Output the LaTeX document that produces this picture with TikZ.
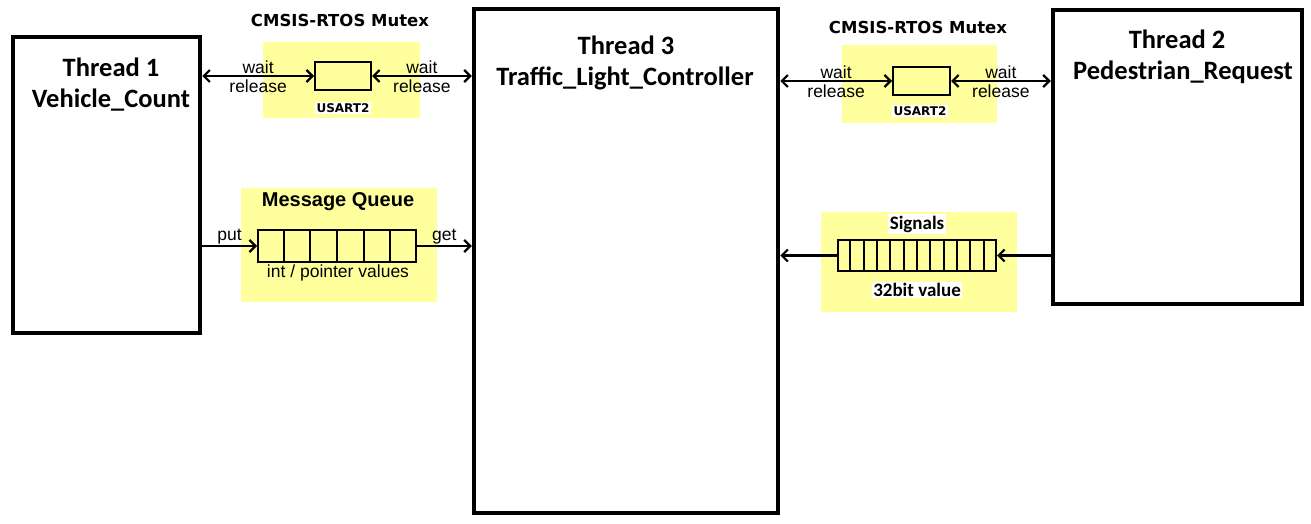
\documentclass[tikz,border=0pt]{standalone}
\usepackage{fontspec}
\setmainfont{Liberation Sans}
\newfontfamily\calib{Carlito}
\newfontfamily\verd{DejaVu Sans}
\usetikzlibrary{arrows.meta,calc}
\definecolor{qyellow}{RGB}{255,255,158}
\tikzset{
  >={Straight Barb[length=6pt,width=12pt]},
  thread/.style={draw, line width=4.5pt, inner sep=0pt},
  threadname/.style={font=\calib\bfseries\fontsize{26.5}{30}\selectfont, align=center, inner sep=0pt},
  area/.style={fill=qyellow, inner sep=0pt},
  box/.style={draw, line width=2pt, fill=qyellow, inner sep=0pt},
  arr/.style={line width=2.2pt, ->},
  darr/.style={line width=2.2pt, <->},
  lbl/.style={font=\fontsize{17.5}{19}\selectfont, inner sep=1pt},
  vtitle/.style={font=\verd\bfseries\fontsize{16.5}{18}\selectfont, inner sep=1pt},
  vsmall/.style={font=\verd\bfseries\fontsize{12}{14}\selectfont, fill=white, inner sep=1.5pt},
  ctitle/.style={font=\calib\bfseries\fontsize{19}{21}\selectfont, fill=white, inner sep=1.5pt}
}
\begin{document}
\begin{tikzpicture}[x=1pt,y=-1pt]
  \useasboundingbox (0,0) rectangle (1311,524);

  \node[thread, minimum width=187, minimum height=296] (thr1) at (106.5,185) {};
  \node[thread, minimum width=304, minimum height=504] (thr3) at (626,261) {};
  \node[thread, minimum width=249, minimum height=294] (thr2) at (1177.5,157) {};

  \node[threadname] at (111,67) {Thread 1};
  \node[threadname] at (111,100) {Vehicle\_Count};
  \node[threadname] at (626,45) {Thread 3};
  \node[threadname] at (625,78) {Traffic\_Light\_Controller};
  \node[threadname] at (1177,39) {Thread 2};
  \node[threadname] at (1183,72) {Pedestrian\_Request};

  % mutex left
  \node[area, minimum width=157, minimum height=76] (mtxbg1) at (341.5,80) {};
  \node[vtitle] (mtxt1) at (340,20) {CMSIS-RTOS Mutex};
  \node[box, minimum width=56, minimum height=28] (mtx1) at (343,76) {};
  \node[vsmall] (usart1) at (343,108) {USART2};
  \draw[darr] (thr1.east |- mtx1) -- (mtx1.west)
    node[midway, above, lbl] {wait} node[midway, below, lbl, inner sep=2.5pt] {release};
  \draw[darr] (mtx1.east) -- (thr3.west |- mtx1)
    node[midway, above, lbl] {wait} node[midway, below, lbl, inner sep=2.5pt] {release};

  % mutex right
  \node[area, minimum width=155, minimum height=78] (mtxbg2) at (919.5,84) {};
  \node[vtitle] (mtxt2) at (918,27) {CMSIS-RTOS Mutex};
  \node[box, minimum width=57, minimum height=28] (mtx2) at (921.5,81) {};
  \node[vsmall] (usart2) at (920,111) {USART2};
  \draw[darr] (thr3.east |- mtx2) -- (mtx2.west)
    node[midway, above, lbl] {wait} node[midway, below, lbl, inner sep=2.5pt] {release};
  \draw[darr] (mtx2.east) -- (thr2.west |- mtx2)
    node[midway, above, lbl] {wait} node[midway, below, lbl, inner sep=2.5pt] {release};

  % message queue
  \node[area, minimum width=196, minimum height=114] (mqbg) at (339,245) {};
  \node[lbl, font=\bfseries\fontsize{20}{22}\selectfont] (mqt) at (338,202) {Message Queue};
  \node[box, minimum width=158, minimum height=32] (mq) at (337,246) {};
  \foreach \i in {1,...,5} {
    \draw[line width=2pt] ($(mq.north west)!\i/6!(mq.north east)$) -- ($(mq.south west)!\i/6!(mq.south east)$);
  }
  \node[lbl] (mqv) at (338,273) {int / pointer values};
  \draw[arr] (thr1.east |- mq) -- (mq.west) node[midway, above, lbl] {put};
  \draw[arr] (mq.east) -- (thr3.west |- mq) node[midway, above, lbl] {get};

  % signals
  \node[area, minimum width=196, minimum height=100] (sigbg) at (919,262) {};
  \node[ctitle] (sigt) at (917,224) {Signals};
  \node[box, minimum width=158, minimum height=31] (sig) at (917,255.5) {};
  \foreach \i in {1,...,11} {
    \draw[line width=2pt] ($(sig.north west)!\i/12!(sig.north east)$) -- ($(sig.south west)!\i/12!(sig.south east)$);
  }
  \node[ctitle] (sigv) at (917,290) {32bit value};
  \draw[arr] (sig.west) -- (thr3.east |- sig);
  \draw[arr] (thr2.west |- sig) -- (sig.east);
\end{tikzpicture}
\end{document}
